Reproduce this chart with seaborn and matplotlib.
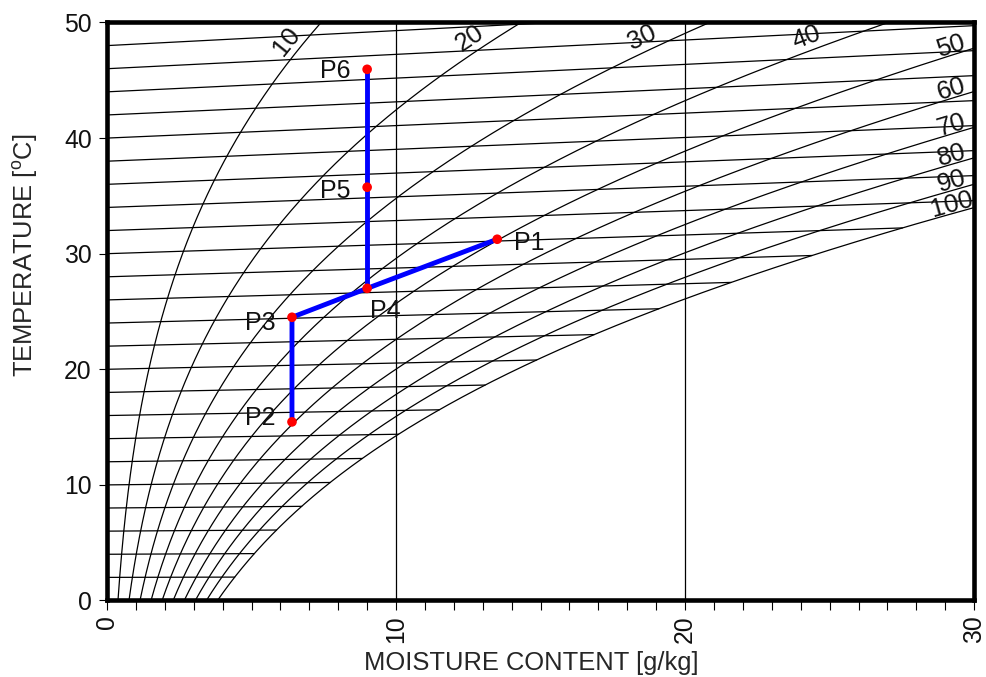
import numpy as np
import pandas as pd
import matplotlib
matplotlib.use("Agg")
import matplotlib.pyplot as plt
from matplotlib.ticker import MultipleLocator
import seaborn as sns

# relative humidity curves [%]
rh_levels = [10, 20, 30, 40, 50, 60, 70, 80, 90, 100]
# isotherms [degC]
isotherm_temps = [2, 4, 6, 8, 10, 12, 14, 16, 18, 20, 22, 24, 26,
                  28, 30, 32, 34, 36, 38, 40, 42, 44, 46, 48, 50]

# process states (moisture content g/kg, chart temperature degC)
point_names = ["P1", "P2", "P3", "P4", "P5", "P6"]
point_x = [13.5, 6.4, 6.4, 9.0, 9.0, 9.0]
point_y = [31.25, 15.45, 24.5, 27.0, 35.75, 45.95]
process_paths = [["P2", "P3", "P4", "P1"], ["P4", "P5", "P6"]]

x_ticks = [0, 10, 20, 30]
y_ticks = [0, 10, 20, 30, 40, 50]

P_ATM = 100.0     # kPa
SKEW = 0.0027     # isotherm tilt of the chart

def p_sat(t):
    return 0.61094 * np.exp(17.625 * t / (t + 243.04))

def moisture(t, rh):
    pv = rh / 100.0 * p_sat(t)
    return 622.0 * pv / (P_ATM - pv)

def chart_y(t, x):
    return t * (1 + SKEW * x)

# build the grid of the chart
rows = []
t_fine = np.linspace(0, 56, 800)
for rh in rh_levels:
    x = moisture(t_fine, rh)
    y = chart_y(t_fine, x)
    keep = (x <= 32) & (y <= 53)
    for xi, yi in zip(x[keep], y[keep]):
        rows.append(("rh%d" % rh, xi, yi))
for t in isotherm_temps:
    xs = np.linspace(0, min(moisture(t, 100), 31), 60)
    for xi in xs:
        rows.append(("t%d" % t, xi, chart_y(t, xi)))
grid = pd.DataFrame(rows, columns=["curve", "x", "y"])

points = pd.DataFrame({"name": point_names, "x": point_x, "y": point_y})

sns.set_style("ticks")
plt.rcParams["font.family"] = ["Liberation Sans", "DejaVu Sans"]
plt.rcParams["mathtext.fontset"] = "custom"
plt.rcParams["mathtext.rm"] = "Liberation Sans"

fig = plt.figure(figsize=(9.86, 6.77), dpi=100)
ax = fig.add_axes([0.1085, 0.113, 0.8795, 0.8538])
ax.set_xlim(0, 30)
ax.set_ylim(0, 50)

sns.lineplot(data=grid, x="x", y="y", units="curve", estimator=None, sort=False,
             color="black", lw=0.9, ax=ax, legend=False)

ax.set_xticks(x_ticks)
ax.set_yticks(y_ticks)
ax.xaxis.set_minor_locator(MultipleLocator(1))
ax.xaxis.grid(True, which="major", color="black", lw=0.9)
ax.yaxis.grid(False)

# process lines
for path in process_paths:
    sub = points.set_index("name").loc[path].reset_index()
    sns.lineplot(data=sub, x="x", y="y", sort=False, estimator=None,
                 color="#0000ff", lw=3.5, ax=ax, zorder=4)
sns.scatterplot(data=points, x="x", y="y", color="#ff0000", s=48,
                edgecolor="none", ax=ax, zorder=5, legend=False)

label_pos = {"P1": (12, -3, "left"), "P2": (-12, 3, "right"),
             "P3": (-12, -4, "right"), "P4": (2, -16, "left"),
             "P5": (-12, -3, "right"), "P6": (-12, -1, "right")}
for name, x, y in zip(point_names, point_x, point_y):
    dx, dy, ha = label_pos[name]
    ax.annotate(name, (x, y), xytext=(dx, dy), textcoords="offset points",
                ha=ha, va="center", fontsize=18, color="#111111")

# humidity labels along the curves, set off from the curve by a small gap
for rh in rh_levels:
    x = moisture(t_fine, rh)
    y = chart_y(t_fine, x)
    top = np.interp(47.6, y, x)
    if top < 28.5:
        xa, ya = top, 47.6
        gap = 14 * 0.72
    else:
        xa, ya = 29.3, np.interp(29.3, x, y)
        gap = 9 * 0.72
    i = np.searchsorted(x, xa)
    p0 = ax.transData.transform((x[i - 3], y[i - 3]))
    p1 = ax.transData.transform((x[i + 3], y[i + 3]))
    a = np.arctan2(p1[1] - p0[1], p1[0] - p0[0])
    ax.annotate(str(rh), (xa, ya), xytext=(-np.sin(a) * gap, np.cos(a) * gap),
                textcoords="offset points", rotation=np.degrees(a),
                rotation_mode="anchor", ha="center", va="center",
                fontsize=18.5, color="#111111")

for s in ax.spines.values():
    s.set_visible(True)
    s.set_linewidth(3.3)
    s.set_color("black")
ax.tick_params(axis="both", which="both", direction="out", color="black",
               width=0.8, labelsize=17.8, labelcolor="#111111")
ax.tick_params(axis="x", which="both", length=7.5, pad=3)
ax.tick_params(axis="y", length=6, pad=5)
ax.set_xticklabels([str(v) for v in x_ticks], rotation=90)

ax.set_xlabel("MOISTURE CONTENT [g/kg]", fontsize=18.4)
ax.set_ylabel(r"TEMPERATURE [$^{\mathrm{o}}$C]", fontsize=18.4)
ax.xaxis.label.set_va("center")
ax.yaxis.label.set_va("center")
ax.xaxis.set_label_coords(0.489, -0.1077)
ax.yaxis.set_label_coords(-0.0946, 0.598)

fig.savefig("out.png", dpi=100)
